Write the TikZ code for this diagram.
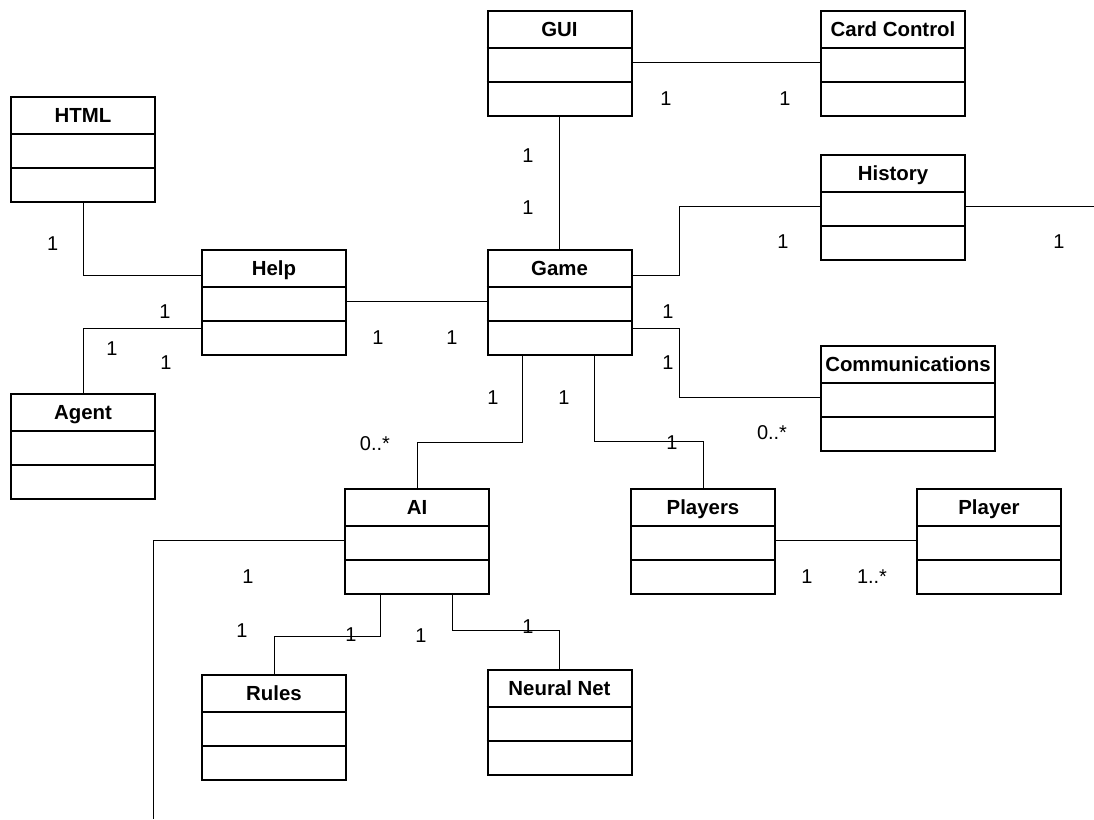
\documentclass[tikz,border=0pt]{standalone}
\usepackage{fontspec}
\setmainfont{Liberation Sans}
\usetikzlibrary{calc}

\tikzset{
  classbox/.style={draw, line width=1.5pt, anchor=north west, inner sep=0pt,
    minimum height=105*0.75pt},
  divider/.style={line width=1.5pt},
  classtitle/.style={anchor=base, inner sep=0pt,
    font=\bfseries\fontsize{15.3}{18}\selectfont},
  conn/.style={line width=0.75pt},
  mult/.style={inner sep=0pt, font=\fontsize{15}{18}\selectfont},
}

% \umlclass[width]{name}{x}{y}{title}: a three-compartment class box
\newcommand{\umlclass}[5][144]{%
  \node[classbox, minimum width=#1*0.75pt] (#2) at (#3,#4) {};
  \draw[divider] ($(#2.north west)+(0,38)$) -- ($(#2.north east)+(0,38)$);
  \draw[divider] ($(#2.north west)+(0,72)$) -- ($(#2.north east)+(0,72)$);
  \node[classtitle] (#2-title) at ($(#2.north)+(0,26)$) {#5};
}

\begin{document}
\begin{tikzpicture}[x=0.75pt, y=-0.75pt]
  \useasboundingbox (0,0) rectangle (1094,819);

  % classes
  \umlclass{gui}{486.5}{10}{GUI}
  \umlclass{card}{820}{10}{Card Control}
  \umlclass{html}{10}{96}{HTML}
  \umlclass{history}{820}{154}{History}
  \umlclass{help}{201}{249}{Help}
  \umlclass{game}{486.5}{249}{Game}
  \umlclass[174]{comm}{820}{345}{Communications}
  \umlclass{agent}{10}{393}{Agent}
  \umlclass{ai}{344}{488}{AI}
  \umlclass{players}{630}{488}{Players}
  \umlclass{player}{916}{488}{Player}
  \umlclass{rules}{201}{674}{Rules}
  \umlclass{nnet}{486.5}{669}{Neural Net}

  % free ends of open associations
  \coordinate (historyend) at (1094,206);
  \coordinate (aiend) at (153,819);

  % associations
  \draw[conn] ($(gui.north east)+(0,52)$) -- ($(card.north west)+(0,52)$);
  \draw[conn] (gui.south) -- (game.north);
  \draw[conn] (html.south) |- ($(help.north west)+(0,26)$);
  \draw[conn] ($(help.north west)+(0,79)$) -| (agent.north);
  \draw[conn] ($(help.north east)+(0,52)$) -- ($(game.north west)+(0,52)$);
  \draw[conn] ($(game.north east)+(0,26)$) -- ++(47,0) |- ($(history.north west)+(0,52)$);
  \draw[conn] ($(history.north east)+(0,52)$) -- (historyend);
  \draw[conn] ($(game.north east)+(0,79)$) -- ++(47,0) |- ($(comm.north west)+(0,52)$);
  \draw[conn] ($(game.south west)+(36,0)$) -- ++(0,86) -| (ai.north);
  \draw[conn] ($(game.south west)+(108,0)$) -- ++(0,85) -| (players.north);
  \draw[conn] ($(players.north east)+(0,52)$) -- ($(player.north west)+(0,52)$);
  \draw[conn] ($(ai.north west)+(0,52)$) -| (aiend);
  \draw[conn] ($(ai.south west)+(36,0)$) -- ++(0,41) -| (rules.north);
  \draw[conn] ($(ai.south west)+(108,0)$) -- ++(0,35) -| (nnet.north);

  % multiplicities
  \node[mult] (m-html) at (52.6,244) {1};
  \node[mult] (m-help-a) at (165,312) {1};
  \node[mult] (m-agent-a) at (112,349) {1};
  \node[mult] (m-agent-b) at (166,363) {1};
  \node[mult] (m-help-game) at (378,338) {1};
  \node[mult] (m-game-help) at (452,338) {1};
  \node[mult] (m-gui-game) at (528,156) {1};
  \node[mult] (m-game-gui) at (528,208) {1};
  \node[mult] (m-gui-card) at (666,99) {1};
  \node[mult] (m-card-gui) at (785,99) {1};
  \node[mult] (m-history-a) at (783,242) {1};
  \node[mult] (m-history-b) at (1059,242) {1};
  \node[mult] (m-game-comm-a) at (668,312) {1};
  \node[mult] (m-game-comm-b) at (668,363) {1};
  \node[mult] (m-comm) at (772,433) {0..*};
  \node[mult] (m-game-ai) at (493,398) {1};
  \node[mult] (m-ai) at (375,444) {0..*};
  \node[mult] (m-game-players) at (564,398) {1};
  \node[mult] (m-players) at (672,443) {1};
  \node[mult] (m-players-player) at (807,577) {1};
  \node[mult] (m-player) at (872,577) {1..*};
  \node[mult] (m-ai-left) at (248,577) {1};
  \node[mult] (m-rules) at (242,631) {1};
  \node[mult] (m-ai-rules) at (351,635) {1};
  \node[mult] (m-ai-nnet) at (421,636) {1};
  \node[mult] (m-nnet) at (528,627) {1};
\end{tikzpicture}
\end{document}
